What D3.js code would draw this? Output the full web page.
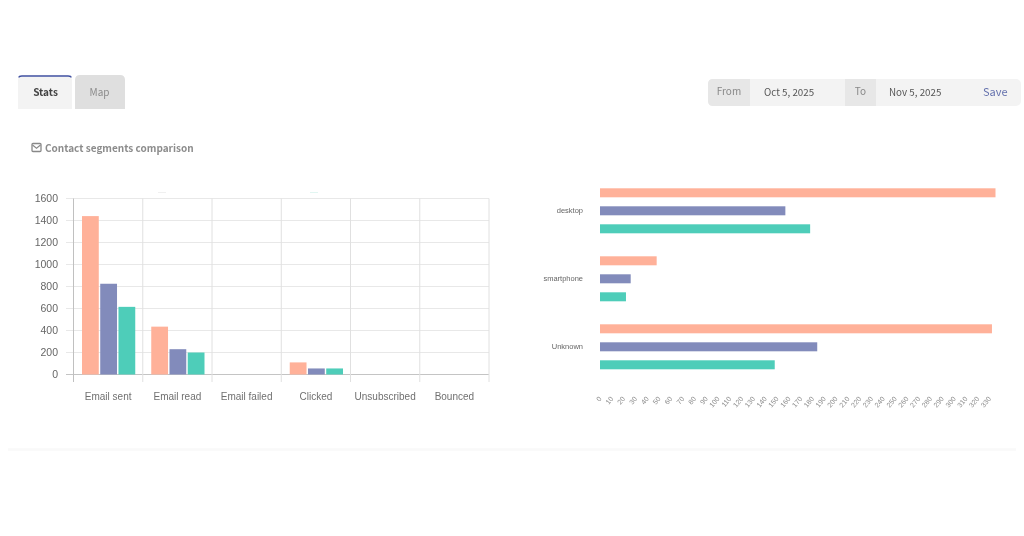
<!DOCTYPE html>
<html>
<head>
<meta charset="utf-8">
<script src="https://cdn.jsdelivr.net/npm/d3@7"></script>
<style>
    html, body { margin: 0; padding: 0; background: #fff; overflow: hidden; }
    svg { display: block; filter: blur(0.55px); }
    text { font-family: "Liberation Sans", Arial, sans-serif; }
    .ui text, text.ui { font-family: "Noto Sans CJK KR", "Noto Sans", sans-serif; }
</style>
</head>
<body>
<script>
// left chart
const actions = ['Email sent', 'Email read', 'Email failed', 'Clicked', 'Unsubscribed', 'Bounced'];
const actionSegmentA = [1440, 435, 0, 110, 0, 0];
const actionSegmentB = [825, 230, 0, 55, 0, 0];
const actionSegmentC = [615, 200, 0, 55, 0, 0];
const countTicks = [0, 200, 400, 600, 800, 1000, 1200, 1400, 1600];

// right chart
const devices = ['desktop', 'smartphone', 'Unknown'];
const deviceSegmentA = [335, 48, 332];
const deviceSegmentB = [157, 26, 184];
const deviceSegmentC = [178, 22, 148];
const deviceTicks = [0, 10, 20, 30, 40, 50, 60, 70, 80, 90, 100, 110, 120, 130, 140, 150, 160,
    170, 180, 190, 200, 210, 220, 230, 240, 250, 260, 270, 280, 290, 300, 310, 320, 330];

const segmentColors = ['#ffb199', '#828bbb', '#4ecdb9'];

let svg = d3.select('body').append('svg').attr('width', 1024).attr('height', 536);

// panel under the charts
svg.append('line').attr('x1', 8).attr('x2', 1016).attr('y1', 449.5).attr('y2', 449.5)
    .attr('stroke', '#f9f9f9').attr('stroke-width', 2.5);

// tabs
let ui = svg.append('g').attr('class', 'ui');
ui.append('path').attr('d', 'M18,109V80q0,-3 3,-3H69q3,0 3,3V109Z').attr('fill', '#f3f3f3');
ui.append('path').attr('d', 'M19,77.5q0,-1.5 3,-1.5H68q3,0 3,1.5').attr('fill', 'none')
    .attr('stroke', '#3f4fa0').attr('stroke-width', 1.5);
ui.append('path').attr('d', 'M75,109V80q0,-5 5,-5H120q5,0 5,5V109Z').attr('fill', '#dfdfdf');
ui.append('text').attr('x', 45.5).attr('y', 96).attr('text-anchor', 'middle')
    .attr('font-size', 10).attr('font-weight', 700).attr('fill', '#444').text('Stats');
ui.append('text').attr('x', 99.5).attr('y', 96).attr('text-anchor', 'middle')
    .attr('font-size', 10).attr('fill', '#8c8c8c').text('Map');

// date range
ui.append('rect').attr('x', 708).attr('y', 79).attr('width', 313).attr('height', 27)
    .attr('rx', 5).attr('fill', '#f3f3f3');
ui.append('path').attr('d', 'M750,79H713q-5,0 -5,5V101q0,5 5,5H750Z').attr('fill', '#e7e7e7');
ui.append('rect').attr('x', 845).attr('y', 79).attr('width', 31).attr('height', 27).attr('fill', '#e7e7e7');
ui.append('text').attr('x', 729).attr('y', 95).attr('text-anchor', 'middle')
    .attr('font-size', 10).attr('fill', '#888').text('From');
ui.append('text').attr('x', 764).attr('y', 96).attr('font-size', 9.8).attr('fill', '#555').text('Oct 5, 2025');
ui.append('text').attr('x', 860.5).attr('y', 95).attr('text-anchor', 'middle')
    .attr('font-size', 10).attr('fill', '#888').text('To');
ui.append('text').attr('x', 889).attr('y', 96).attr('font-size', 9.8).attr('fill', '#555').text('Nov 5, 2025');
ui.append('text').attr('x', 983).attr('y', 96).attr('font-size', 11).attr('fill', '#6471ad').text('Save');

// heading with envelope icon
ui.append('rect').attr('x', 32).attr('y', 143.5).attr('width', 9).attr('height', 8).attr('rx', 1)
    .attr('fill', 'none').attr('stroke', '#888').attr('stroke-width', 1.3);
ui.append('path').attr('d', 'M32.5,145l4,3.2l4,-3.2').attr('fill', 'none')
    .attr('stroke', '#888').attr('stroke-width', 1.1);
ui.append('text').attr('x', 45).attr('y', 152).attr('font-size', 10).attr('font-weight', 700)
    .attr('fill', '#8c8c8c').text('Contact segments comparison');

//---- left chart: vertical bars
let x = d3.scaleBand().domain(actions).range([73.5, 489]);
let xInner = d3.scaleBand().domain([0, 1, 2]).range([8.5, x.bandwidth() - 7.5]).paddingInner(0.08);
let y = d3.scaleLinear().domain([0, 1600]).range([374.5, 198.5]);

let left = svg.append('g');
// remains of the hidden legend above the plot
left.append('line').attr('x1', 158).attr('x2', 166).attr('y1', 192.5).attr('y2', 192.5).attr('stroke', '#f0f0f0');
left.append('line').attr('x1', 310).attr('x2', 318).attr('y1', 192.5).attr('y2', 192.5).attr('stroke', '#e2f6f2');

left.append('g').selectAll('line').data(countTicks).enter().append('line')
    .attr('x1', 66).attr('x2', 489)
    .attr('y1', d => y(d)).attr('y2', d => y(d))
    .attr('stroke', d => d === 0 ? '#c4c4c4' : '#e8e8e8');
left.append('g').selectAll('line').data(actions.concat('end')).enter().append('line')
    .attr('x1', (d, i) => i < actions.length ? x(d) : x.range()[1])
    .attr('x2', (d, i) => i < actions.length ? x(d) : x.range()[1])
    .attr('y1', 198.5).attr('y2', 382)
    .attr('stroke', (d, i) => i === 0 ? '#c0c0c0' : '#e0e0e0');

[actionSegmentA, actionSegmentB, actionSegmentC].forEach(function (values, s) {
    left.append('g').selectAll('rect').data(values).enter().append('rect')
        .attr('x', (d, i) => x(actions[i]) + xInner(s))
        .attr('y', d => y(d))
        .attr('width', xInner.bandwidth())
        .attr('height', d => y(0) - y(d))
        .attr('fill', segmentColors[s]);
});

left.append('g').selectAll('text').data(countTicks).enter().append('text')
    .attr('x', 58).attr('y', d => y(d)).attr('dy', '0.35em').attr('text-anchor', 'end')
    .attr('font-size', 10.5).attr('fill', '#666').text(d => d);
left.append('g').selectAll('text').data(actions).enter().append('text')
    .attr('x', d => x(d) + x.bandwidth() / 2).attr('y', 400).attr('text-anchor', 'middle')
    .attr('font-size', 10).attr('fill', '#707070').text(d => d);

//---- right chart: horizontal bars
let xDev = d3.scaleLinear().domain([0, 335]).range([600, 995.5]);
let yDev = d3.scaleBand().domain(devices).range([177, 381]);
let yInner = d3.scaleBand().domain([0, 1, 2]).range([11.3, 56.3]).paddingInner(0.5);

let right = svg.append('g');
[deviceSegmentA, deviceSegmentB, deviceSegmentC].forEach(function (values, s) {
    right.append('g').selectAll('rect').data(values).enter().append('rect')
        .attr('x', xDev(0))
        .attr('y', (d, i) => yDev(devices[i]) + yInner(s))
        .attr('width', d => xDev(d) - xDev(0))
        .attr('height', yInner.bandwidth())
        .attr('fill', segmentColors[s]);
});
right.append('g').selectAll('text').data(devices).enter().append('text')
    .attr('x', 583).attr('y', d => yDev(d) + yDev.bandwidth() / 2 - 0.5).attr('dy', '0.35em')
    .attr('text-anchor', 'end').attr('font-size', 7.5).attr('fill', '#666').text(d => d);
right.append('g').selectAll('text').data(deviceTicks).enter().append('text')
    .attr('text-anchor', 'end').attr('font-size', 7).attr('fill', '#8c8c8c')
    .attr('transform', d => 'translate(' + (xDev(d) + 2) + ',399) rotate(-50)')
    .text(d => d);
</script>
</body>
</html>
